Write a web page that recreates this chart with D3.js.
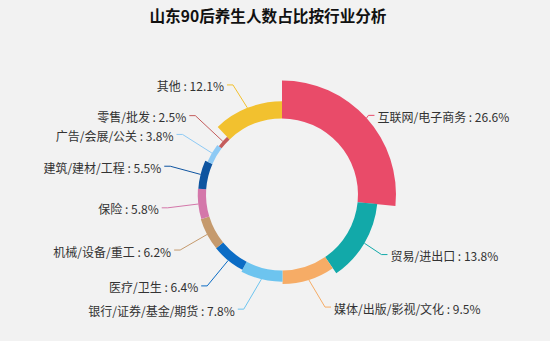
<!DOCTYPE html>
<html>
<head>
<meta charset="utf-8">
<script src="https://cdn.jsdelivr.net/npm/d3@7/dist/d3.min.js"></script>
<style>
  html, body { margin: 0; padding: 0; background: #f2f2f2; }
  svg { display: block; }
</style>
</head>
<body>
<div id="chart"></div>
<script>
// ---- data ----
const title = "山东90后养生人数占比按行业分析";
const categories = [
  "互联网/电子商务", "贸易/进出口", "媒体/出版/影视/文化", "银行/证券/基金/期货",
  "医疗/卫生", "机械/设备/重工", "保险", "建筑/建材/工程",
  "广告/会展/公关", "零售/批发", "其他"
];
const values = [26.6, 13.8, 9.5, 7.8, 6.4, 6.2, 5.8, 5.5, 3.8, 2.5, 12.1];
const colors = [
  "#e94b69", "#12a9a9", "#f6ac66", "#6dc4ef", "#0b6cc5", "#c59a6d",
  "#d477aa", "#0e54a0", "#8ecaf5", "#c45c5c", "#f2c12f"
];

// ---- layout ----
const W = 550, H = 341;
const cx = 282, cy = 194.5;
const r0 = 76, R = 114;
const len1 = 4, len2 = 6;
const fontFamily = "'Noto Sans CJK SC', 'Noto Sans', sans-serif";

const svg = d3.select("#chart").append("svg")
  .attr("width", W).attr("height", H);

svg.append("rect").attr("width", W).attr("height", H).attr("fill", "#f2f2f2");

const titleText = svg.append("text")
  .attr("x", 268).attr("y", 15)
  .attr("text-anchor", "middle")
  .attr("dominant-baseline", "central")
  .attr("font-family", fontFamily)
  .attr("font-weight", "bold")
  .attr("font-size", 18)
  .attr("fill", "#111")
  .text(title);
// fit title width to the reference (~237px)
const tw = titleText.node().getComputedTextLength();
if (tw > 0) titleText.attr("font-size", Math.min(18, 18 * 237 / tw));

const data = categories.map((c, i) => ({ name: c, value: values[i], color: colors[i] }));

const pie = d3.pie().sort(null).value(d => d.value).startAngle(0).endAngle(2 * Math.PI);
const arcs = pie(data);

const rScale = d3.scaleLinear().domain([0, d3.max(values)]).range([r0, R]);

const arc = d3.arc()
  .innerRadius(r0)
  .outerRadius(d => rScale(d.data.value));

const g = svg.append("g").attr("transform", `translate(${cx},${cy})`);

g.selectAll("path.slice").data(arcs).enter().append("path")
  .attr("class", "slice")
  .attr("d", arc)
  .attr("fill", d => d.data.color);

// ---- label layout (echarts-like) ----
const labelH = 17;
const labels = arcs.map(d => {
  const mid = (d.startAngle + d.endAngle) / 2;
  const dx = Math.sin(mid), dy = -Math.cos(mid);
  const ro = rScale(d.data.value);
  const x1 = cx + ro * dx, y1 = cy + ro * dy;
  const x2 = cx + (R + len1) * dx, y2 = cy + (R + len1) * dy;
  const dir = dx < 0 ? -1 : 1;
  return { d, dir, x1, y1, x2, y2, y: y2, x: x2 + dir * len2,
           text: d.data.name + " : " + d.data.value + "%" };
});

function adjustSide(list, dir) {
  list.sort((a, b) => a.y - b.y);
  function shiftUp(end, delta) {
    for (let j = end; j >= 0; j--) {
      list[j].y -= delta;
      if (j > 0 && list[j].y > list[j - 1].y + labelH) break;
    }
  }
  function shiftDown(start, end, delta) {
    for (let j = start; j < end; j++) {
      list[j].y += delta;
      if (j > start && j + 1 < end && list[j + 1].y > list[j].y + labelH) {
        shiftUp(j, delta / 2);
        return;
      }
    }
    shiftUp(end - 1, delta / 2);
  }
  let lastY = 0;
  for (let i = 0; i < list.length; i++) {
    const delta = list[i].y - lastY;
    if (delta < 0) shiftDown(i, list.length, -delta);
    lastY = list[i].y + labelH;
  }
  const up = list.filter(l => l.y < cy), down = list.filter(l => l.y >= cy);
  function changeX(arr, isDown) {
    let last = isDown ? Number.MAX_VALUE : 0;
    arr.forEach(l => {
      const dY = Math.abs(l.y - cy);
      const rr = R + len1 + len2;
      let dX = dY < R + len1 ? Math.sqrt(rr * rr - dY * dY) : Math.abs(l.x - cx);
      if (isDown && dX >= last) dX = last - 10;
      if (!isDown && dX <= last) dX = last + 10;
      l.x = cx + dX * dir;
      last = dX;
    });
  }
  changeX(up, false);
  changeX(down, true);
}
adjustSide(labels.filter(l => l.dir > 0), 1);
adjustSide(labels.filter(l => l.dir < 0), -1);

labels.forEach(l => {
  const p3x = l.x - l.dir * 3;
  const p2x = p3x - l.dir * len2;
  l.points = [[l.x1, l.y1], [p2x, l.y], [p3x, l.y]];
});

svg.selectAll("polyline.lbl").data(labels).enter().append("polyline")
  .attr("class", "lbl")
  .attr("points", l => l.points.map(p => p.join(",")).join(" "))
  .attr("fill", "none")
  .attr("stroke", l => l.d.data.color)
  .attr("stroke-width", 1);

svg.selectAll("text.lbl").data(labels).enter().append("text")
  .attr("class", "lbl")
  .attr("x", l => l.x)
  .attr("y", l => l.y + 1)
  .attr("text-anchor", l => l.dir > 0 ? "start" : "end")
  .attr("dominant-baseline", "central")
  .attr("font-family", fontFamily)
  .attr("font-size", 12)
  .attr("fill", "#333")
  .text(l => l.text);
</script>
</body>
</html>
